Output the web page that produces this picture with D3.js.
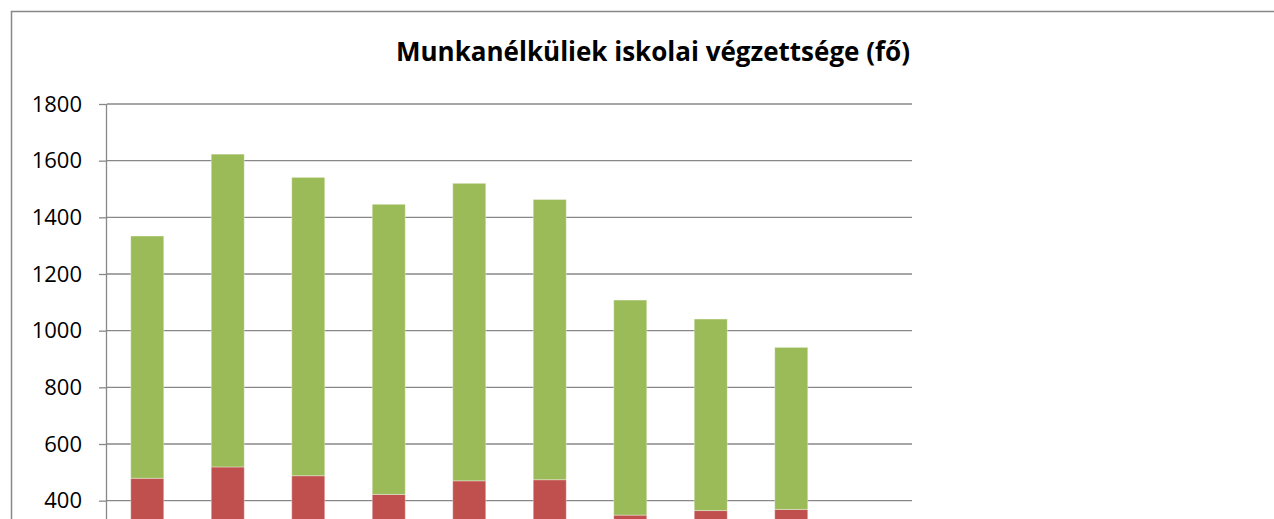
<!DOCTYPE html>
<html lang="hu">
<head>
<meta charset="UTF-8">
<title>Munkanélküliek iskolai végzettsége</title>
<script src="https://cdn.jsdelivr.net/npm/d3@7"></script>
<style>
  body { margin: 0; background: #fff; }
  svg { display: block; }
  text { font-family: "Open Sans", "Liberation Sans", sans-serif; fill: #000; }
</style>
</head>
<body>
<div id="chart"></div>
<script>
// kategóriák (az x tengely feliratai a képen kívül esnek)
const categories = ["1", "2", "3", "4", "5", "6", "7", "8", "9", "10"]
// alsó (piros) sorozat
const redValues = [479, 519, 488, 422, 470, 474, 349, 365, 369, 0]
// felső (zöld) sorozat
const greenValues = [855, 1104, 1053, 1024, 1050, 989, 759, 676, 572, 0]
// csak a látható osztásokat írjuk ki (0 és 200 a képen kívül esik)
const yTicks = [400, 600, 800, 1000, 1200, 1400, 1600, 1800]
const title = "Munkanélküliek iskolai végzettsége (fő)"

const W = 1274, H = 519
const plotLeft = 107, plotRight = 912
const yTop = 104, yZero = 614

const svg = d3.select("#chart").append("svg")
  .attr("width", W).attr("height", H)

// külső keret
svg.append("rect")
  .attr("x", 11.5).attr("y", 11.5)
  .attr("width", 1300).attr("height", 700)
  .attr("fill", "none")
  .attr("stroke", "#888")
  .attr("stroke-width", 1.5)

const x = d3.scaleBand()
  .domain(categories)
  .range([plotLeft, plotRight])
  .paddingInner(0.59)
  .paddingOuter(0.295)

const y = d3.scaleLinear()
  .domain([0, 1800])
  .range([yZero, yTop])

// rácsvonalak
svg.append("g")
  .selectAll("line")
  .data(yTicks)
  .join("line")
  .attr("x1", plotLeft).attr("x2", plotRight)
  .attr("y1", d => y(d)).attr("y2", d => y(d))
  .attr("stroke", "#888")
  .attr("stroke-width", 1.3)

// y tengely
const yAxis = d3.axisLeft(y)
  .tickValues(yTicks)
  .tickSize(8)
  .tickPadding(17)
  .tickFormat(d3.format("d"))

const gy = svg.append("g")
  .attr("transform", `translate(${plotLeft},0)`)
  .call(yAxis)
gy.select(".domain")
  .attr("d", `M-0.5,${y(1800)}V${H + 5}`)
  .attr("stroke", "#888").attr("stroke-width", 1.3)
gy.selectAll(".tick line").attr("stroke", "#888").attr("stroke-width", 1.3)
gy.selectAll(".tick text")
  .style("font-family", "'Open Sans', sans-serif")
  .style("font-size", "22px")
  .attr("fill", "#000")

// halmozott oszlopok
const rows = categories.map((c, i) => ({ cat: c, red: redValues[i], green: greenValues[i] }))
const stack = d3.stack().keys(["red", "green"])(rows)
const colors = { red: "#C0504D", green: "#9BBB59" }

svg.append("g")
  .selectAll("g")
  .data(stack)
  .join("g")
  .attr("fill", d => colors[d.key])
  .selectAll("rect")
  .data(d => d)
  .join("rect")
  .attr("x", d => x(d.data.cat))
  .attr("width", x.bandwidth())
  .attr("y", d => y(d[1]))
  .attr("height", d => y(d[0]) - y(d[1]))
  .attr("stroke", "rgba(255,255,255,0.35)")
  .attr("stroke-width", 1)

// cím
const t = svg.append("text")
  .attr("x", 653).attr("y", 61)
  .attr("text-anchor", "middle")
  .style("font-weight", "bold")
  .style("font-size", "26px")
  .text(title)
// szélesség igazítása a referenciához
const tw = t.node().getComputedTextLength()
if (tw > 519) t.style("font-size", (26 * 519 / tw).toFixed(1) + "px")
</script>
</body>
</html>
